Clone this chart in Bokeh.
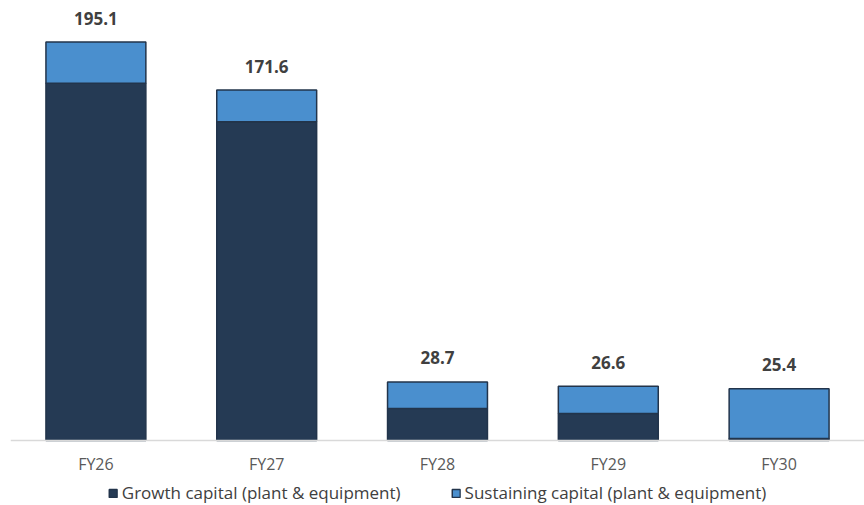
from bokeh.plotting import figure
from bokeh.models import ColumnDataSource, Legend, LegendItem, Range1d, FactorRange, Span
from bokeh.core.properties import value
from bokeh.embed import file_html
from bokeh.resources import INLINE

years = ["FY26", "FY27", "FY28", "FY29", "FY30"]
growth = [174.9, 156.1, 15.7, 13.2, 1.0]
sustaining = [20.2, 15.5, 13.0, 13.4, 24.4]
totals = [195.1, 171.6, 28.7, 26.6, 25.4]
total_labels = ["195.1", "171.6", "28.7", "26.6", "25.4"]
base = [0, 0, 0, 0, 0]

FONT = "Open Sans"
C_GROWTH = "#253A54"
C_SUST = "#4A8FCE"
C_EDGE = "#22344B"

src = ColumnDataSource(dict(x=years, growth=growth, sustaining=sustaining,
                            total=totals, lab=total_labels, base=base))

p = figure(width=864, height=505, x_range=FactorRange(*years),
           y_range=Range1d(-31.8, 211.5), output_backend="svg",
           toolbar_location=None, min_border_left=10, min_border_right=0,
           min_border_top=8, min_border_bottom=0)

rs = p.vbar_stack(["growth", "sustaining"], x="x", width=0.585, source=src,
                  color=[C_GROWTH, C_SUST])
for r in rs:
    r.glyph.line_color = C_EDGE
    r.glyph.line_width = 1.5

p.add_layout(Span(location=0, dimension="width", line_color="#D9D9D9", line_width=1.5))

p.text(x="x", y="total", text="lab", source=src, text_align="center",
       text_baseline="alphabetic", y_offset=-24, text_font=value(FONT),
       text_font_size="17px", text_font_style="bold", text_color="#404040")

p.text(x="x", y="base", text="x", source=src, text_align="center",
       text_baseline="middle", y_offset=23, text_font=value(FONT),
       text_font_size="16px", text_color="#595959")

p.xaxis.visible = False
p.yaxis.visible = False
p.xgrid.visible = False
p.ygrid.visible = False
p.outline_line_color = None
p.background_fill_color = "white"
p.border_fill_color = "white"

legend = Legend(items=[LegendItem(label="Growth capital (plant & equipment)", renderers=[rs[0]]),
                       LegendItem(label="Sustaining capital (plant & equipment)", renderers=[rs[1]])],
                orientation="horizontal", location="bottom_center",
                label_text_font=FONT, label_text_font_size="17px",
                label_text_color="#404040", glyph_width=10, glyph_height=10,
                label_height=18, label_standoff=4, spacing=50, padding=0, margin=1,
                border_line_color=None, background_fill_alpha=0)
p.add_layout(legend)

open("out.html", "w").write(file_html(p, INLINE))
